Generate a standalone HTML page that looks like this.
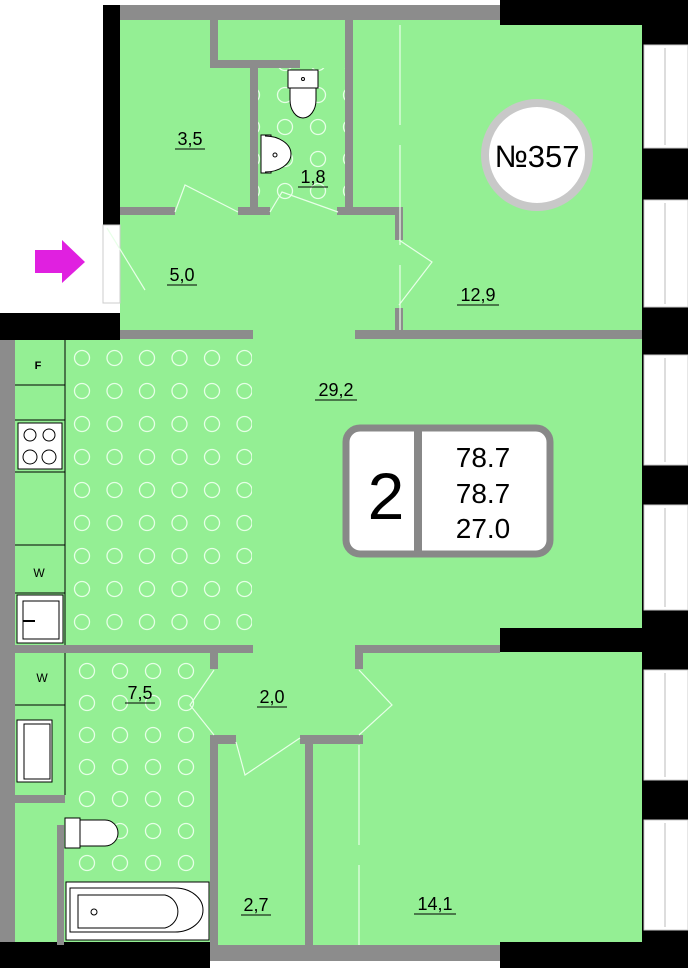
<!DOCTYPE html>
<html><head><meta charset="utf-8"><style>
html,body{margin:0;padding:0;background:#fff;width:688px;height:968px;overflow:hidden}
svg{display:block}
text{font-family:"Liberation Sans",sans-serif}
</style></head><body>
<svg width="688" height="968" viewBox="0 0 688 968" xmlns="http://www.w3.org/2000/svg">
<defs>
<pattern id="dots" x="66" y="342" width="32.5" height="33" patternUnits="userSpaceOnUse">
<circle cx="16" cy="16" r="7.5" fill="none" stroke="#e6ffe6" stroke-width="1.3"/>
</pattern>
<pattern id="dots2" x="70" y="655" width="33" height="32" patternUnits="userSpaceOnUse">
<circle cx="17" cy="16" r="7.5" fill="none" stroke="#e6ffe6" stroke-width="1.3"/>
</pattern>
</defs>
<!-- green floors -->
<rect x="120" y="20" width="524" height="315" fill="#94ef94"/>
<rect x="15" y="335" width="629" height="612" fill="#94ef94"/>
<rect x="66" y="342" width="186" height="303" fill="url(#dots)"/>
<rect x="66" y="653" width="144" height="228" fill="url(#dots2)"/>
<rect x="258" y="68" width="87" height="140" fill="url(#dots2)"/>
<!-- outer walls -->
<rect x="120" y="5" width="380" height="15" fill="#8c8c8c"/>
<rect x="500" y="0" width="188" height="25" fill="#000"/>
<rect x="103" y="5" width="17" height="220" fill="#000"/>
<rect x="0" y="313" width="120" height="27" fill="#000"/>
<rect x="120" y="330" width="133" height="9" fill="#8c8c8c"/>
<rect x="355" y="330" width="289" height="9" fill="#8c8c8c"/>
<rect x="0" y="340" width="15" height="608" fill="#8c8c8c"/>
<rect x="0" y="942" width="210" height="26" fill="#000"/>
<rect x="210" y="945" width="290" height="16" fill="#8c8c8c"/>
<rect x="500" y="942" width="188" height="26" fill="#000"/>
<rect x="642" y="0" width="46" height="968" fill="#000"/>
<rect x="500" y="628" width="144" height="24" fill="#000"/>
<!-- windows -->
<g fill="#fff" stroke="#ccc" stroke-width="1">
<rect x="644" y="45" width="44" height="103"/>
<rect x="644" y="200" width="44" height="107"/>
<rect x="644" y="355" width="44" height="110"/>
<rect x="644" y="505" width="44" height="105"/>
<rect x="644" y="670" width="44" height="110"/>
<rect x="644" y="820" width="44" height="110"/>
</g>
<g stroke="#bbb" stroke-width="1">
<line x1="665" y1="48" x2="665" y2="145"/><line x1="665" y1="203" x2="665" y2="304"/>
<line x1="665" y1="358" x2="665" y2="462"/><line x1="665" y1="508" x2="665" y2="607"/>
<line x1="665" y1="673" x2="665" y2="777"/><line x1="665" y1="823" x2="665" y2="927"/>
</g>
<!-- entry door -->
<rect x="103" y="225" width="17" height="78" fill="#fff" stroke="#ccc"/>
<polygon points="35,250 62,250 62,240 85,262 62,283 62,273 35,273" fill="#e020e0"/>
<!-- interior walls -->
<g fill="#8c8c8c">
<rect x="210" y="20" width="8" height="48"/>
<rect x="210" y="60" width="90" height="8"/>
<rect x="250" y="60" width="8" height="155"/>
<rect x="345" y="20" width="8" height="195"/>
<rect x="120" y="207" width="55" height="8"/>
<rect x="238" y="207" width="32" height="8"/>
<rect x="337" y="207" width="66" height="8"/>
<rect x="395" y="207" width="8" height="33"/>
<rect x="395" y="308" width="8" height="25"/>
<rect x="15" y="645" width="238" height="8"/>
<rect x="355" y="645" width="145" height="8"/>
<rect x="210" y="653" width="8" height="16"/>
<rect x="355" y="653" width="8" height="16"/>
<rect x="210" y="735" width="8" height="210"/>
<rect x="210" y="735" width="26" height="9"/>
<rect x="300" y="735" width="63" height="9"/>
<rect x="305" y="735" width="8" height="210"/>
<rect x="15" y="795" width="50" height="8"/>
<rect x="57" y="825" width="7" height="120"/>
</g>
<!-- doors -->
<g fill="none" stroke="#e8ffe8" stroke-width="1.2">
<polyline points="175,212 185,185 238,212"/>
<polyline points="270,212 282,192 338,212"/>
<polyline points="399,240 432,262 399,305"/>
<polyline points="107,228 145,290"/>
<polyline points="214,670 190,705 214,735"/>
<polyline points="236,742 245,775 300,738"/>
<polyline points="359,670 392,705 359,735"/>
<line x1="400" y1="25" x2="400" y2="330" stroke-dasharray="100,20"/>
<line x1="359" y1="745" x2="359" y2="945" stroke-dasharray="100,20"/>
</g>
<!-- kitchen -->
<g fill="none" stroke="#000" stroke-width="1">
<line x1="65" y1="340" x2="65" y2="645"/>
<line x1="15" y1="385" x2="65" y2="385"/>
<line x1="15" y1="420" x2="65" y2="420"/>
<line x1="15" y1="472" x2="65" y2="472"/>
<line x1="15" y1="545" x2="65" y2="545"/>
<line x1="15" y1="593" x2="65" y2="593"/>
<rect x="18" y="423" width="44" height="46" fill="#fff"/>
<circle cx="30" cy="435" r="6"/><circle cx="49" cy="435" r="6"/>
<circle cx="30" cy="457" r="7"/><circle cx="49" cy="457" r="7"/>
<rect x="17" y="595" width="46" height="48" fill="#fff"/>
<rect x="23" y="601" width="36" height="38" fill="#fff"/>
<line x1="23" y1="621" x2="35" y2="621" stroke-width="2"/>
<line x1="65" y1="653" x2="65" y2="795"/>
<line x1="15" y1="705" x2="65" y2="705"/>
<rect x="17" y="720" width="35" height="62" fill="#fff"/>
<rect x="24" y="724" width="26" height="55"/>
<rect x="66" y="882" width="143" height="58" fill="#fff"/>
<path d="M70 888 H175 A28 22 0 0 1 175 932 H70 Z"/>
<path d="M78 895 H165 A17 17 0 0 1 165 928 H78 Z"/>
<circle cx="94" cy="912" r="3"/>
<rect x="65" y="818" width="15" height="30" fill="#fff"/>
<path d="M80 820 H105 A13 13 0 0 1 105 846 H80 Z" fill="#fff"/>
<rect x="288" y="70" width="30" height="18" fill="#fff"/>
<path d="M290 88 H316 V100 A13 18 0 0 1 290 100 Z" fill="#fff"/>
<circle cx="303" cy="79" r="1.5"/>
<rect x="261" y="135" width="10" height="38" fill="#fff"/>
<path d="M265 136 A26 18 0 0 1 265 172" fill="#fff"/>
<circle cx="275" cy="155" r="2"/>
</g>
<text x="38" y="369" font-size="11" text-anchor="middle" font-weight="bold">F</text>
<text x="39" y="577" font-size="12" text-anchor="middle">W</text>
<text x="42" y="682" font-size="12" text-anchor="middle">W</text>
<!-- number circle -->
<circle cx="537" cy="155" r="52" fill="#fff" stroke="#c8c8c8" stroke-width="8"/>
<text x="537" y="167" font-size="31" text-anchor="middle">№357</text>
<!-- info box -->
<rect x="346" y="428" width="204" height="126" rx="14" fill="#fff" stroke="#888" stroke-width="7"/>
<rect x="414" y="428" width="8" height="126" fill="#888"/>
<text x="386" y="519" font-size="66" text-anchor="middle">2</text>
<text x="483" y="467" font-size="28" text-anchor="middle">78.7</text>
<text x="483" y="503" font-size="28" text-anchor="middle">78.7</text>
<text x="483" y="538" font-size="28" text-anchor="middle">27.0</text>
<!-- labels -->
<g font-size="18" text-anchor="middle" fill="#000">
<text x="190" y="145">3,5</text>
<text x="313" y="183">1,8</text>
<text x="182" y="281">5,0</text>
<text x="478" y="301">12,9</text>
<text x="336" y="396">29,2</text>
<text x="140" y="699">7,5</text>
<text x="272" y="703">2,0</text>
<text x="256" y="911">2,7</text>
<text x="435" y="910">14,1</text>
</g>
<g stroke="#000" stroke-width="1">
<line x1="175" y1="149" x2="205" y2="149"/>
<line x1="298" y1="187" x2="328" y2="187"/>
<line x1="167" y1="285" x2="197" y2="285"/>
<line x1="457" y1="305" x2="499" y2="305"/>
<line x1="315" y1="400" x2="357" y2="400"/>
<line x1="125" y1="703" x2="155" y2="703"/>
<line x1="257" y1="707" x2="287" y2="707"/>
<line x1="241" y1="915" x2="271" y2="915"/>
<line x1="414" y1="914" x2="456" y2="914"/>
</g>
</svg>
</body></html>
